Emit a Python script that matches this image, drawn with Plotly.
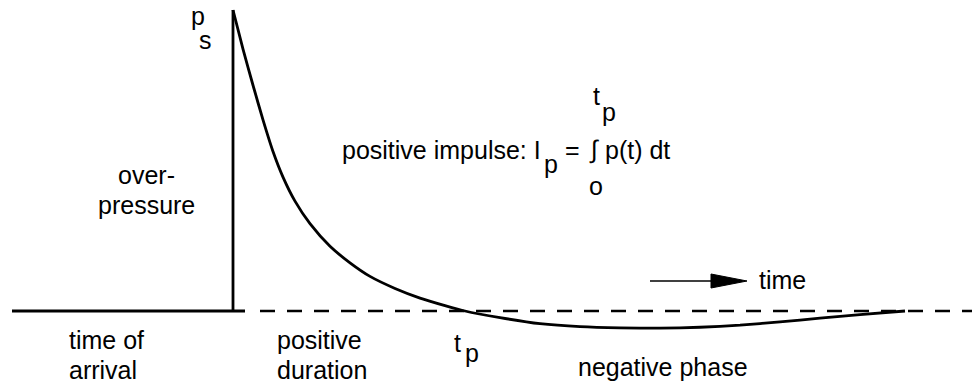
import plotly.graph_objects as go

# Blast-wave overpressure history (arbitrary time units, pressure normalised to peak p_s)
ambient_before_t = [12, 245]
ambient_before_p = [0.0, 0.0]

rise_t = [233, 233]
rise_p = [0.0, 1.0]

pulse_t = [233, 243, 253, 263, 273, 283, 295, 310, 330, 350, 370, 395, 420, 445, 465,
           500, 540, 580, 620, 660, 700, 740, 780, 820, 860, 905]
pulse_p = [1.0, 0.87, 0.75, 0.635, 0.53, 0.445, 0.365, 0.29, 0.215, 0.16, 0.115, 0.075,
           0.043, 0.018, 0.0, -0.022, -0.042, -0.052, -0.056, -0.057, -0.054, -0.047,
           -0.036, -0.024, -0.012, 0.0]

ambient_after_t = [260, 972]
ambient_after_p = [0.0, 0.0]

W, H = 977, 391
Y_BASE, Y_PEAK = 311, 10          # pixel rows of p = 0 and p = p_s
scale = Y_BASE - Y_PEAK
y_lo = -(H - Y_BASE) / scale
y_hi = Y_BASE / scale

fig = go.Figure()
fig.add_trace(go.Scatter(x=ambient_after_t, y=ambient_after_p, mode="lines",
                         line=dict(color="black", width=2.5, dash="15px,12px"),
                         hoverinfo="skip"))
fig.add_trace(go.Scatter(x=ambient_before_t, y=ambient_before_p, mode="lines",
                         line=dict(color="black", width=2.8), hoverinfo="skip"))
fig.add_trace(go.Scatter(x=rise_t, y=rise_p, mode="lines",
                         line=dict(color="black", width=2.8), hoverinfo="skip"))
fig.add_trace(go.Scatter(x=pulse_t, y=pulse_p, mode="lines",
                         line=dict(color="black", width=2.8, shape="spline", smoothing=0.6),
                         hoverinfo="skip"))

# direction-of-time arrow
arrow_tail, arrow_tip, arrow_p = 650, 747, 30 / scale
head_len, head_half = 36, 7 / scale
fig.add_trace(go.Scatter(x=[arrow_tail, arrow_tip - head_len], y=[arrow_p, arrow_p],
                         mode="lines", line=dict(color="black", width=1.5), hoverinfo="skip"))
fig.add_trace(go.Scatter(x=[arrow_tip - head_len, arrow_tip, arrow_tip - head_len, arrow_tip - head_len],
                         y=[arrow_p + head_half, arrow_p, arrow_p - head_half, arrow_p + head_half],
                         mode="lines", fill="toself", fillcolor="black",
                         line=dict(color="black", width=1), hoverinfo="skip"))

FONT = "Liberation Sans, Arial, Helvetica, sans-serif"


def label(text, x, y, size=25, xanchor="center"):
    fig.add_annotation(x=x / W, y=1 - y / H, xref="paper", yref="paper", text=text,
                       showarrow=False, xanchor=xanchor, yanchor="middle", borderpad=0,
                       font=dict(family=FONT, size=size, color="black"))


label("p", 198, 16)
label("s", 205, 40)
label("over-", 146, 175)
label("pressure", 146, 205)
label("positive impulse: I", 341, 150, xanchor="left")
label("p", 551, 164)
label("=", 572, 150)
label("\u222b", 594, 150)
label("t", 596, 96)
label("p", 609, 112)
label("o", 596, 186)
label("p(t) dt", 604, 150, xanchor="left")
label("time", 782, 280)
label("time of", 68, 340, xanchor="left")
label("arrival", 68, 370, xanchor="left")
label("positive", 276, 340, xanchor="left")
label("duration", 276, 370, xanchor="left")
label("t", 457, 343)
label("p", 472, 353)
label("negative phase", 663, 367)

fig.update_layout(width=W, height=H, margin=dict(l=0, r=0, t=0, b=0),
                  paper_bgcolor="white", plot_bgcolor="white", showlegend=False,
                  xaxis=dict(range=[0, W], visible=False, fixedrange=True),
                  yaxis=dict(range=[y_lo, y_hi], visible=False, fixedrange=True))

fig.write_html("out.html")
